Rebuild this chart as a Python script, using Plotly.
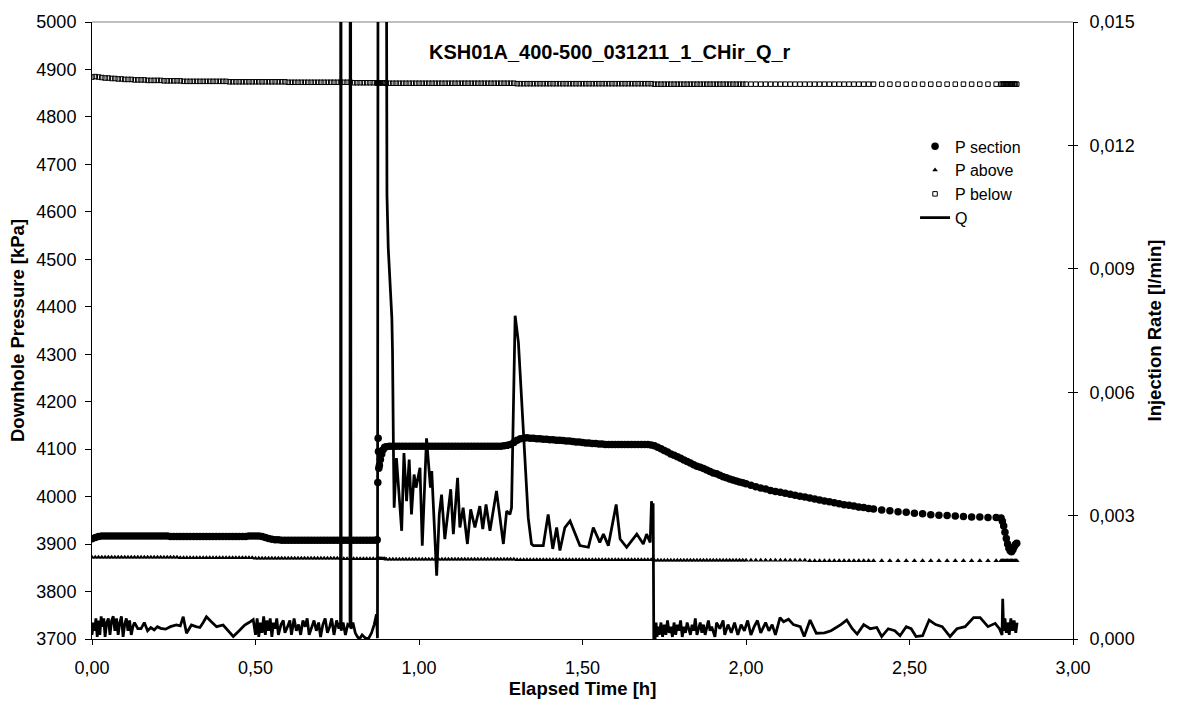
import plotly.graph_objects as go

# ---------------------------------------------------------------------------
# Pressure logger samples (elapsed time in hours)
# ---------------------------------------------------------------------------
hours_p = [
    # 0.00 - 0.87
    0.00, 0.01, 0.02, 0.03, 0.04, 0.05, 0.06, 0.07, 0.08, 0.09,
    0.10, 0.11, 0.12, 0.13, 0.14, 0.15, 0.16, 0.17, 0.18, 0.19,
    0.20, 0.21, 0.22, 0.23, 0.24, 0.25, 0.26, 0.27, 0.28, 0.29,
    0.30, 0.31, 0.32, 0.33, 0.34, 0.35, 0.36, 0.37, 0.38, 0.39,
    0.40, 0.41, 0.42, 0.43, 0.44, 0.45, 0.46, 0.47, 0.48, 0.49,
    0.50, 0.51, 0.52, 0.53, 0.54, 0.55, 0.56, 0.57, 0.58, 0.59,
    0.60, 0.61, 0.62, 0.63, 0.64, 0.65, 0.66, 0.67, 0.68, 0.69,
    0.70, 0.71, 0.72, 0.73, 0.74, 0.75, 0.76, 0.77, 0.78, 0.79,
    0.80, 0.81, 0.82, 0.83, 0.84, 0.85, 0.86, 0.87,
    # packer / injection start
    0.872, 0.874, 0.875, 0.876, 0.877, 0.879, 0.882, 0.886, 0.890, 0.895,
    # 0.90 - 1.71
    0.90, 0.91, 0.92, 0.93, 0.94, 0.95, 0.96, 0.97, 0.98, 0.99,
    1.00, 1.01, 1.02, 1.03, 1.04, 1.05, 1.06, 1.07, 1.08, 1.09,
    1.10, 1.11, 1.12, 1.13, 1.14, 1.15, 1.16, 1.17, 1.18, 1.19,
    1.20, 1.21, 1.22, 1.23, 1.24, 1.25, 1.26, 1.27, 1.28, 1.29,
    1.30, 1.31, 1.32, 1.33, 1.34, 1.35, 1.36, 1.37, 1.38, 1.39,
    1.40, 1.41, 1.42, 1.43, 1.44, 1.45, 1.46, 1.47, 1.48, 1.49,
    1.50, 1.51, 1.52, 1.53, 1.54, 1.55, 1.56, 1.57, 1.58, 1.59,
    1.60, 1.61, 1.62, 1.63, 1.64, 1.65, 1.66, 1.67, 1.68, 1.69,
    1.70, 1.71,
    # recovery 1.72 - 2.00
    1.72, 1.73, 1.74, 1.75, 1.76, 1.77, 1.78, 1.79, 1.80, 1.81,
    1.82, 1.83, 1.84, 1.85, 1.86, 1.87, 1.88, 1.89, 1.90, 1.91,
    1.92, 1.93, 1.94, 1.95, 1.96, 1.97, 1.98, 1.99, 2.00,
    # recovery 2.015 - 2.39
    2.015, 2.030, 2.045, 2.060, 2.075, 2.090, 2.105, 2.120, 2.135, 2.150,
    2.165, 2.180, 2.195, 2.210, 2.225, 2.240, 2.255, 2.270, 2.285, 2.300,
    2.315, 2.330, 2.345, 2.360, 2.375, 2.390,
    # recovery 2.415 - 2.765
    2.415, 2.440, 2.465, 2.490, 2.515, 2.540, 2.565, 2.590, 2.615, 2.640,
    2.665, 2.690, 2.715, 2.740, 2.765,
    # packer release
    2.780, 2.784, 2.788, 2.792, 2.796, 2.800, 2.804, 2.808, 2.812, 2.816,
    2.820, 2.824, 2.828,
]

p_section = [
    3911, 3914, 3916, 3917, 3917, 3917, 3917, 3917, 3917, 3917,
    3917, 3917, 3917, 3917, 3917, 3917, 3917, 3917, 3917, 3917,
    3917, 3917, 3917, 3917, 3916, 3916, 3916, 3916, 3916, 3916,
    3916, 3916, 3916, 3916, 3916, 3916, 3916, 3916, 3916, 3916,
    3916, 3916, 3916, 3916, 3916, 3916, 3916, 3916, 3917, 3917,
    3917, 3917, 3916, 3914, 3912, 3910, 3909, 3909, 3908, 3908,
    3908, 3908, 3908, 3908, 3908, 3908, 3908, 3908, 3908, 3908,
    3908, 3908, 3908, 3908, 3908, 3908, 3908, 3908, 3908, 3908,
    3908, 3908, 3908, 3908, 3908, 3908, 3908, 3908,
    3909, 4030, 4123, 4095, 4060, 4066, 4078, 4090, 4099, 4104,
    4105, 4106, 4106, 4106, 4106, 4106, 4106, 4106, 4106, 4106,
    4106, 4106, 4106, 4106, 4106, 4106, 4106, 4106, 4106, 4106,
    4106, 4106, 4106, 4106, 4106, 4106, 4106, 4106, 4106, 4106,
    4106, 4106, 4106, 4106, 4106, 4106, 4107, 4108, 4110, 4114,
    4119, 4122, 4123, 4124, 4123, 4123, 4122, 4122, 4121, 4121,
    4120, 4120, 4119, 4119, 4118, 4117, 4117, 4116, 4115, 4115,
    4114, 4113, 4113, 4112, 4112, 4111, 4111, 4110, 4110, 4110,
    4110, 4110, 4110, 4110, 4110, 4110, 4110, 4110, 4110, 4110,
    4110, 4109,
    4107, 4104, 4101, 4097, 4094, 4090, 4087, 4084, 4081, 4077,
    4074, 4071, 4067, 4064, 4062, 4059, 4056, 4053, 4050, 4048,
    4045, 4042, 4040, 4037, 4035, 4033, 4031, 4029, 4027,
    4024, 4021, 4018, 4016, 4013, 4011, 4009, 4007, 4005, 4003,
    4001, 3999, 3997, 3995, 3993, 3991, 3989, 3987, 3985, 3983,
    3982, 3980, 3978, 3977, 3975, 3974,
    3972, 3970, 3968, 3967, 3965, 3964, 3962, 3961, 3960, 3959,
    3958, 3957, 3957, 3956, 3956,
    3955, 3948, 3938, 3925, 3912, 3900, 3891, 3886, 3884, 3888,
    3894, 3899, 3902,
]

p_above = [
    3872, 3872, 3872, 3872, 3872, 3872, 3872, 3872, 3872, 3872,
    3872, 3872, 3872, 3872, 3872, 3872, 3872, 3872, 3872, 3872,
    3872, 3872, 3872, 3872, 3872, 3872, 3872, 3871, 3871, 3871,
    3871, 3871, 3871, 3871, 3871, 3871, 3871, 3871, 3871, 3871,
    3871, 3871, 3871, 3871, 3871, 3871, 3871, 3871, 3871, 3871,
    3870, 3870, 3870, 3870, 3870, 3870, 3870, 3870, 3870, 3870,
    3870, 3870, 3870, 3870, 3870, 3870, 3870, 3870, 3870, 3870,
    3870, 3870, 3870, 3870, 3870, 3870, 3870, 3869, 3869, 3869,
    3869, 3869, 3869, 3869, 3869, 3869, 3869, 3869,
    3869, 3869, 3869, 3869, 3869, 3869, 3869, 3869, 3869, 3869,
    3868, 3868, 3868, 3868, 3868, 3868, 3868, 3868, 3868, 3868,
    3868, 3868, 3868, 3868, 3868, 3868, 3868, 3868, 3868, 3868,
    3868, 3868, 3868, 3868, 3868, 3868, 3868, 3868, 3868, 3868,
    3868, 3868, 3868, 3868, 3868, 3868, 3868, 3868, 3868, 3868,
    3867, 3867, 3867, 3867, 3867, 3867, 3867, 3867, 3867, 3867,
    3867, 3867, 3867, 3867, 3867, 3867, 3867, 3867, 3867, 3867,
    3867, 3867, 3867, 3867, 3867, 3867, 3867, 3867, 3867, 3867,
    3867, 3867, 3867, 3867, 3867, 3867, 3867, 3867, 3867, 3867,
    3867, 3867,
    3866, 3866, 3866, 3866, 3866, 3866, 3866, 3866, 3866, 3866,
    3866, 3866, 3866, 3866, 3866, 3866, 3866, 3866, 3866, 3866,
    3866, 3866, 3866, 3866, 3866, 3866, 3866, 3866, 3866,
    3866, 3866, 3866, 3866, 3866, 3866, 3866, 3866, 3866, 3866,
    3866, 3866, 3865, 3865, 3865, 3865, 3865, 3865, 3865, 3865,
    3865, 3865, 3865, 3865, 3865, 3865,
    3865, 3865, 3865, 3865, 3865, 3865, 3865, 3865, 3865, 3865,
    3865, 3865, 3865, 3865, 3865,
    3865, 3865, 3865, 3865, 3865, 3865, 3865, 3865, 3865, 3865,
    3865, 3865, 3865,
]

p_below = [
    4884, 4885, 4884, 4883, 4882, 4882, 4881, 4881, 4880, 4880,
    4879, 4879, 4879, 4878, 4878, 4878, 4878, 4877, 4877, 4877,
    4877, 4877, 4876, 4876, 4876, 4876, 4876, 4876, 4875, 4875,
    4875, 4875, 4875, 4875, 4875, 4875, 4875, 4875, 4875, 4875,
    4875, 4875, 4874, 4874, 4874, 4874, 4874, 4874, 4874, 4874,
    4874, 4874, 4874, 4874, 4874, 4874, 4874, 4874, 4874, 4874,
    4873, 4873, 4873, 4873, 4873, 4873, 4873, 4873, 4873, 4873,
    4873, 4873, 4873, 4873, 4873, 4873, 4873, 4873, 4873, 4873,
    4872, 4872, 4872, 4872, 4872, 4872, 4872, 4872,
    4872, 4872, 4872, 4872, 4872, 4872, 4872, 4872, 4872, 4872,
    4871, 4871, 4871, 4871, 4871, 4871, 4871, 4871, 4871, 4871,
    4871, 4871, 4871, 4871, 4871, 4871, 4871, 4871, 4871, 4871,
    4871, 4871, 4871, 4871, 4871, 4871, 4871, 4871, 4871, 4871,
    4871, 4871, 4871, 4871, 4871, 4871, 4871, 4871, 4871, 4871,
    4870, 4870, 4870, 4870, 4870, 4870, 4870, 4870, 4870, 4870,
    4870, 4870, 4870, 4870, 4870, 4870, 4870, 4870, 4870, 4870,
    4870, 4870, 4870, 4870, 4870, 4870, 4870, 4870, 4870, 4870,
    4870, 4870, 4870, 4870, 4870, 4870, 4870, 4870, 4870, 4870,
    4870, 4870,
    4869, 4869, 4869, 4869, 4869, 4869, 4869, 4869, 4869, 4869,
    4869, 4869, 4869, 4869, 4869, 4869, 4869, 4869, 4869, 4869,
    4869, 4869, 4869, 4869, 4869, 4869, 4869, 4869, 4869,
    4869, 4869, 4869, 4869, 4869, 4869, 4869, 4869, 4869, 4869,
    4869, 4869, 4869, 4869, 4869, 4869, 4869, 4869, 4869, 4869,
    4869, 4869, 4869, 4869, 4869, 4869,
    4869, 4869, 4869, 4869, 4869, 4869, 4869, 4869, 4869, 4869,
    4869, 4869, 4869, 4869, 4869,
    4869, 4869, 4869, 4869, 4869, 4869, 4869, 4869, 4869, 4869,
    4869, 4869, 4869,
]

# ---------------------------------------------------------------------------
# Injection rate Q [l/min]; values above 0.015 run off the top of the axis
# ---------------------------------------------------------------------------
hours_q = [
    0.000, 0.004, 0.008, 0.012, 0.016, 0.020, 0.024, 0.028, 0.032, 0.036,
    0.040, 0.045, 0.050, 0.055, 0.060, 0.065, 0.070, 0.075, 0.080, 0.085,
    0.090, 0.095, 0.100, 0.105, 0.110, 0.115, 0.120, 0.125, 0.130, 0.140,
    0.150, 0.160, 0.170, 0.180, 0.190, 0.200, 0.210, 0.225, 0.240, 0.258,
    0.270, 0.279, 0.289, 0.304, 0.318, 0.330, 0.340, 0.350, 0.365, 0.381,
    0.401, 0.416, 0.432, 0.450, 0.467, 0.480, 0.493,
    0.500, 0.505, 0.510, 0.515, 0.520, 0.525, 0.530, 0.535, 0.540, 0.545,
    0.550, 0.555, 0.560, 0.565, 0.570, 0.578, 0.585, 0.590, 0.598, 0.605,
    0.610, 0.618, 0.625, 0.632, 0.638, 0.645, 0.652, 0.658, 0.664, 0.672,
    0.679, 0.686, 0.693, 0.699, 0.706, 0.713, 0.720, 0.727, 0.733, 0.740,
    0.748, 0.755, 0.760, 0.761, 0.762, 0.768, 0.775, 0.782, 0.789, 0.790,
    0.792, 0.798, 0.805, 0.812, 0.818, 0.826, 0.835, 0.845, 0.855, 0.863,
    0.870, 0.873, 0.876, 0.897, 0.899, 0.900, 0.902, 0.906, 0.910, 0.914,
    0.917, 0.919, 0.921, 0.922, 0.924,
    0.931, 0.947, 0.954, 0.962, 0.970, 0.977, 0.985, 0.991, 1.003, 1.010,
    1.023, 1.035, 1.039, 1.054, 1.062, 1.069, 1.079, 1.097, 1.105, 1.118,
    1.125, 1.135, 1.148, 1.158, 1.171, 1.186, 1.195, 1.205, 1.217, 1.237,
    1.258, 1.268, 1.278, 1.283, 1.289, 1.294, 1.304, 1.314, 1.324, 1.334,
    1.344, 1.350, 1.380, 1.395, 1.409, 1.421, 1.431, 1.446, 1.462, 1.492,
    1.518, 1.533, 1.553, 1.564, 1.579, 1.603, 1.615, 1.635, 1.666, 1.686,
    1.696, 1.707, 1.711, 1.714, 1.716, 1.718,
    1.722, 1.725, 1.728, 1.732, 1.735, 1.740, 1.745, 1.750, 1.755, 1.760,
    1.765, 1.770, 1.775, 1.780, 1.785, 1.790, 1.795, 1.800, 1.805, 1.810,
    1.815, 1.820, 1.830, 1.835, 1.840, 1.845, 1.850, 1.860, 1.865, 1.870,
    1.875, 1.885, 1.890, 1.895, 1.905, 1.910, 1.920, 1.930, 1.935, 1.945,
    1.955, 1.965, 1.975, 1.985, 1.995, 2.005, 2.015, 2.025, 2.035, 2.045,
    2.060, 2.070, 2.080, 2.090, 2.104,
    2.115, 2.130, 2.145, 2.166, 2.178, 2.196, 2.215, 2.240, 2.260, 2.290,
    2.308, 2.325, 2.340, 2.360, 2.380, 2.400, 2.415, 2.435, 2.455, 2.471,
    2.490, 2.505, 2.520, 2.540, 2.560, 2.580, 2.600, 2.624, 2.645, 2.670,
    2.696, 2.716, 2.740, 2.762, 2.775, 2.783, 2.785, 2.788, 2.792, 2.796,
    2.800, 2.805, 2.810, 2.815, 2.820, 2.825, 2.829,
]

q_rate = [
    0.00010, 0.00040, 0.00020, 0.00050, 0.00005, 0.00045, 0.00010, 0.00055, 0.00030, 0.00050,
    0.00005, 0.00040, 0.00050, 0.00010, 0.00045, 0.00055, 0.00020, 0.00050, 0.00010, 0.00040,
    0.00055, 0.00005, 0.00035, 0.00050, 0.00020, 0.00045, 0.00010, 0.00030, 0.00040, 0.00025,
    0.00025, 0.00040, 0.00020, 0.00028, 0.00022, 0.00030, 0.00026, 0.00024, 0.00030, 0.00034,
    0.00032, 0.00054, 0.00014, 0.00034, 0.00030, 0.00028, 0.00040, 0.00054, 0.00042, 0.00030,
    0.00034, 0.00020, 0.00006, 0.00020, 0.00034, 0.00040, 0.00047,
    0.00010, 0.00050, 0.00005, 0.00040, 0.00015, 0.00055, 0.00010, 0.00045, 0.00020, 0.00050,
    0.00005, 0.00040, 0.00025, 0.00050, 0.00010, 0.00035, 0.00045, 0.00015, 0.00030, 0.00045,
    0.00010, 0.00050, 0.00020, 0.00035, 0.00010, 0.00045, 0.00030, 0.00050, 0.00010, 0.00030,
    0.00045, 0.00020, 0.00040, 0.00005, 0.00035, 0.00050, 0.00015, 0.00030, 0.00050, 0.00010,
    0.00045, 0.00025, 0.00040, 0.03000, 0.00020, 0.00040, 0.00010, 0.00035, 0.00030, 0.03000,
    0.00025, 0.00040, 0.00015, 0.00005, 0.00000, 0.00010, 0.00003, 0.00000, 0.00015, 0.00035,
    0.00060, 0.00002, 0.03000, 0.03000, 0.01600, 0.01350, 0.01080, 0.00950, 0.00880, 0.00820,
    0.00780, 0.00700, 0.00600, 0.00450, 0.00319,
    0.00440, 0.00263, 0.00452, 0.00335, 0.00436, 0.00303, 0.00400, 0.00368, 0.00416, 0.00227,
    0.00488, 0.00368, 0.00408, 0.00154, 0.00303, 0.00351, 0.00243, 0.00364, 0.00255, 0.00392,
    0.00271, 0.00319, 0.00231, 0.00315, 0.00271, 0.00323, 0.00267, 0.00327, 0.00263, 0.00360,
    0.00231, 0.00311, 0.00303, 0.00319, 0.00577, 0.00786, 0.00721, 0.00577, 0.00416, 0.00295,
    0.00231, 0.00227, 0.00227, 0.00303, 0.00219, 0.00271, 0.00215, 0.00271, 0.00287, 0.00227,
    0.00223, 0.00271, 0.00235, 0.00255, 0.00227, 0.00327, 0.00243, 0.00223, 0.00255, 0.00231,
    0.00255, 0.00235, 0.00335, 0.00300, 0.00330, 0.00000,
    0.00000, 0.00040, 0.00005, 0.00030, 0.00010, 0.00040, 0.00005, 0.00035, 0.00010, 0.00045,
    0.00015, 0.00030, 0.00005, 0.00040, 0.00010, 0.00035, 0.00020, 0.00045, 0.00005, 0.00030,
    0.00015, 0.00040, 0.00010, 0.00035, 0.00020, 0.00050, 0.00010, 0.00040, 0.00015, 0.00035,
    0.00010, 0.00045, 0.00020, 0.00030, 0.00005, 0.00040, 0.00025, 0.00045, 0.00010, 0.00035,
    0.00015, 0.00040, 0.00010, 0.00035, 0.00020, 0.00045, 0.00010, 0.00030, 0.00045, 0.00015,
    0.00040, 0.00020, 0.00035, 0.00010, 0.00052,
    0.00042, 0.00048, 0.00035, 0.00030, 0.00006, 0.00046, 0.00014, 0.00015, 0.00020, 0.00035,
    0.00046, 0.00025, 0.00012, 0.00035, 0.00025, 0.00028, 0.00006, 0.00025, 0.00020, 0.00008,
    0.00030, 0.00025, 0.00006, 0.00008, 0.00046, 0.00035, 0.00030, 0.00006, 0.00025, 0.00030,
    0.00052, 0.00052, 0.00030, 0.00038, 0.00025, 0.00010, 0.00098, 0.00020, 0.00050, 0.00015,
    0.00040, 0.00010, 0.00050, 0.00020, 0.00045, 0.00015, 0.00040,
]

FONT = "Arial, Liberation Sans, sans-serif"
TICK_SIZE = 18
TITLE_SIZE = 18.5

fig = go.Figure()

fig.add_trace(go.Scatter(
    x=hours_p, y=p_section, mode="markers", name="P section",
    marker=dict(symbol="circle", size=7.5, color="black", line=dict(width=0)),
))
fig.add_trace(go.Scatter(
    x=hours_p, y=p_above, mode="markers", name="P above",
    marker=dict(symbol="triangle-up", size=5, color="black", line=dict(width=0)),
))
fig.add_trace(go.Scatter(
    x=hours_p, y=p_below, mode="markers", name="P below",
    marker=dict(symbol="square-open", size=4.5, color="black", line=dict(width=1, color="black")),
))
fig.add_trace(go.Scatter(
    x=hours_q, y=q_rate, mode="lines", name="Q", yaxis="y2",
    line=dict(color="black", width=2.75),
))
# empty trace that carries the inner tick marks of the right-hand axis
fig.add_trace(go.Scatter(x=[None], y=[None], yaxis="y3", showlegend=False,
                         hoverinfo="skip"))

axis_common = dict(
    showgrid=False, zeroline=False, showline=True, linecolor="black",
    linewidth=1, ticks="outside", tickcolor="black",
    tickfont=dict(family=FONT, size=TICK_SIZE, color="black"),
)

fig.update_layout(
    width=1181, height=713,
    margin=dict(l=92, r=108, t=17, b=74),
    paper_bgcolor="white", plot_bgcolor="white",
    separators=", ",
    font=dict(family=FONT, color="black"),
    xaxis=dict(
        range=[0, 3], dtick=0.5, tickformat=".2f", ticklen=5, ticklabelstandoff=7,
        title=dict(text="<b>Elapsed Time [h]</b>", font=dict(family=FONT, size=TITLE_SIZE), standoff=4),
        **axis_common,
    ),
    yaxis=dict(
        range=[3700, 5000], dtick=100, ticklen=6, ticklabelstandoff=5,
        title=dict(text="<b>Downhole Pressure [kPa]</b>", font=dict(family=FONT, size=TITLE_SIZE), standoff=6),
        **axis_common,
    ),
    yaxis2=dict(
        range=[0, 0.015], dtick=0.003, tickformat=".3f", ticklen=4, ticklabelstandoff=8,
        overlaying="y", side="right", anchor="x",
        title=dict(text="<b>Injection Rate [l/min]</b>", font=dict(family=FONT, size=TITLE_SIZE), standoff=14),
        **axis_common,
    ),
    yaxis3=dict(
        range=[0, 0.015], dtick=0.003, overlaying="y", side="right", anchor="x",
        showgrid=False, zeroline=False, showline=False, showticklabels=False,
        ticks="inside", ticklen=5, tickcolor="black",
    ),
    legend=dict(
        x=0.839, y=0.826, xanchor="left", yanchor="top",
        bgcolor="rgba(0,0,0,0)", font=dict(family=FONT, size=16, color="black"),
        tracegroupgap=0,
    ),
    showlegend=True,
    shapes=[dict(type="line", xref="paper", yref="paper", x0=0, x1=1, y0=1, y1=1,
                 line=dict(color="#808080", width=1), layer="below")],
    annotations=[dict(
        text="<b>KSH01A_400-500_031211_1_CHir_Q_r</b>",
        xref="paper", yref="paper", x=0.341, y=0.952, xanchor="left", yanchor="middle",
        showarrow=False, font=dict(family=FONT, size=20, color="black"),
    )],
)

fig.write_html("out.html")
